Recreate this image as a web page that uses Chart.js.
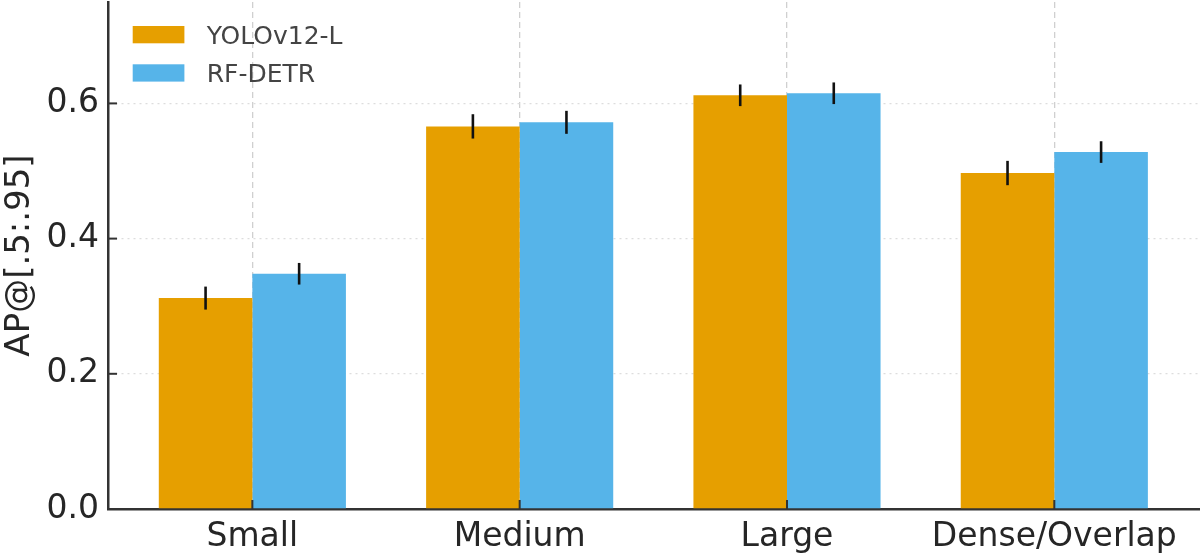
<!DOCTYPE html>
<html lang="en">
<head>
    <meta charset="UTF-8">
    <title>AP by object type</title>
    <script src="https://cdn.jsdelivr.net/npm/chart.js"></script>
    <style>
        html, body { margin: 0; padding: 0; background: #fff; }
        #wrap { width: 1200px; height: 554px; }
    </style>
</head>
<body>
    <div id="wrap"><canvas id="apChart"></canvas></div>
    <script>
        const categories = ['Small', 'Medium', 'Large', 'Dense/Overlap'];
        const yoloAP = [0.312, 0.566, 0.612, 0.497];
        const yoloErr = [0.017, 0.018, 0.016, 0.018];
        const rfdetrAP = [0.348, 0.572, 0.615, 0.528];
        const rfdetrErr = [0.016, 0.017, 0.016, 0.016];
        const yTicks = [0, 0.2, 0.4, 0.6];

        const FONT = 'DejaVu Sans';
        const AXIS = '#333333';

        // error bars + inward tick marks
        const overlay = {
            id: 'overlay',
            afterDatasetsDraw(chart) {
                const ctx = chart.ctx;
                const y = chart.scales.y, x = chart.scales.x;
                ctx.save();
                ctx.strokeStyle = '#111';
                ctx.lineWidth = 2.6;
                chart.data.datasets.forEach((ds, i) => {
                    chart.getDatasetMeta(i).data.forEach((bar, j) => {
                        const v = ds.data[j].y, e = ds.err[j];
                        ctx.beginPath();
                        ctx.moveTo(bar.x, y.getPixelForValue(v - e));
                        ctx.lineTo(bar.x, y.getPixelForValue(v + e));
                        ctx.stroke();
                    });
                });
                ctx.strokeStyle = AXIS;
                ctx.lineWidth = 2;
                const area = chart.chartArea;
                yTicks.forEach(t => {
                    const py = y.getPixelForValue(t);
                    ctx.beginPath();
                    ctx.moveTo(area.left, py);
                    ctx.lineTo(area.left + 9, py);
                    ctx.stroke();
                });
                categories.forEach((c, i) => {
                    const px = x.getPixelForValue(i);
                    ctx.beginPath();
                    ctx.moveTo(px, area.bottom);
                    ctx.lineTo(px, area.bottom - 9);
                    ctx.stroke();
                });
                ctx.restore();
            },
            afterDraw(chart) {
                const ctx = chart.ctx;
                ctx.save();
                ctx.font = '25px "' + FONT + '"';
                ctx.textBaseline = 'alphabetic';
                chart.data.datasets.forEach((ds, i) => {
                    const top = 26 + i * 38.3;
                    ctx.fillStyle = ds.backgroundColor;
                    ctx.fillRect(132.7, top, 51.7, 17.3);
                    ctx.fillStyle = '#444';
                    ctx.fillText(ds.label, 206.7, top + 18);
                });
                ctx.restore();
            }
        };

        new Chart(document.getElementById('apChart'), {
            type: 'bar',
            data: {
                datasets: [{
                    label: 'YOLOv12-L',
                    data: yoloAP.map((v, i) => ({ x: i, y: v })),
                    err: yoloErr,
                    backgroundColor: '#E69F00'
                }, {
                    label: 'RF-DETR',
                    data: rfdetrAP.map((v, i) => ({ x: i, y: v })),
                    err: rfdetrErr,
                    backgroundColor: '#56B4E9'
                }]
            },
            options: {
                responsive: true,
                maintainAspectRatio: false,
                animation: false,
                categoryPercentage: 0.7,
                barPercentage: 1.0,
                layout: { padding: { top: 2, right: 0, left: 0, bottom: 0 } },
                plugins: { legend: { display: false }, tooltip: { enabled: false } },
                scales: {
                    x: {
                        type: 'linear',
                        min: -0.54,
                        max: 3.545,
                        offset: false,
                        afterBuildTicks: s => { s.ticks = categories.map((c, i) => ({ value: i })); },
                        afterFit: s => { s.height = 45; s.paddingLeft = 0; s.paddingRight = 0; },
                        ticks: {
                            callback: v => categories[v],
                            font: { family: FONT, size: 33 },
                            color: '#262626',
                            padding: 9,
                            maxRotation: 0,
                            autoSkip: false
                        },
                        grid: { offset: false, color: '#d0d0d0', lineWidth: 1.3, drawTicks: false },
                        border: { color: AXIS, width: 2.5, dash: [6, 4] }
                    },
                    y: {
                        min: 0,
                        max: 0.75,
                        afterBuildTicks: s => { s.ticks = yTicks.map(v => ({ value: v })); },
                        afterFit: s => { s.width = 108; s.paddingTop = 0; s.paddingBottom = 0; },
                        ticks: {
                            callback: v => v.toFixed(1),
                            font: { family: FONT, size: 33 },
                            color: '#262626',
                            padding: 9
                        },
                        grid: { color: '#dddddd', lineWidth: 1.3, drawTicks: false },
                        border: { color: AXIS, width: 2.5, dash: [2, 4] },
                        title: {
                            display: true,
                            text: 'AP@[.5:.95]',
                            font: { family: FONT, size: 34 },
                            color: '#262626',
                            padding: { top: 0, bottom: 0 }
                        }
                    }
                }
            },
            plugins: [overlay]
        });
    </script>
</body>
</html>
